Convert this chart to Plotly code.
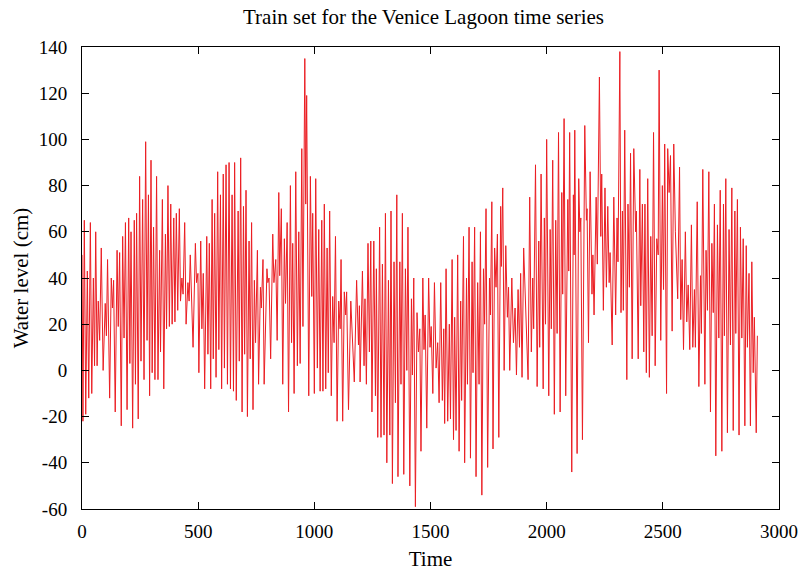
import plotly.graph_objects as go

# Extremes (peaks and troughs) of the water level series
time = [0,4,10,16,23,29,36,42,49,54,59,65,70,76,83,91,100,105,110,119,126,131,136,143,151,156,162,169,175,181,187,194,201,206,211,218,225,230,235,242,248,254,261,267,274,280,286,291,297,302,
        308,314,321,327,334,338,346,352,359,364,370,376,382,388,395,400,406,412,419,424,430,435,442,448,456,461,466,478,488,493,499,503,511,516,522,528,537,542,548,554,560,565,571,577,584,589,596,601,608,613,
        620,626,633,639,646,652,657,664,672,677,683,689,695,700,706,712,719,724,730,736,742,747,755,760,768,772,779,784,796,800,805,812,821,826,834,840,847,851,858,864,871,876,883,889,897,902,907,913,
        920,927,933,939,946,951,959,963,967,976,983,989,993,1000,1006,1013,1019,1025,1032,1037,1043,1049,1055,1060,1066,1073,1079,1085,1091,1098,1105,1111,1115,1122,1129,1135,1139,1147,1157,1164,1172,1182,1190,1194,1197,1207,1214,
        1218,1224,1231,1237,1243,1248,1256,1263,1267,1273,1281,1287,1293,1300,1306,1312,1319,1325,1330,1336,1343,1349,1355,1360,1368,1373,1379,1385,1392,1398,1403,1411,1418,1422,1428,1435,1442,1448,1454,1459,1467,1472,1477,1484,1492,1498,1503,1510,1517,
        1524,1531,1537,1544,1551,1557,1561,1567,1574,1581,1586,1593,1599,1604,1610,1617,1623,1630,1634,1642,1647,1655,1659,1666,1672,1679,1683,1690,1696,1703,1709,1715,1721,1728,1733,1739,1746,1754,1758,1764,1769,1776,1782,1788,1794,1802,1805,1811,1817,
        1824,1831,1836,1841,1850,1857,1864,1870,1877,1883,1888,1894,1901,1909,1920,1927,1934,1940,1944,1952,1959,1966,1970,1976,1985,1990,1995,2000,2009,2015,2020,2026,2033,2039,2045,2051,2058,2065,2069,2075,2082,2091,2095,2099,2108,2115,
        2118,2121,2131,2138,2143,2147,2154,2164,2171,2174,2180,2187,2195,2199,2204,2213,2218,2227,2233,2237,2244,2251,2257,2263,2269,2273,2282,2289,2297,2303,2307,2315,2320,2326,2330,2336,2345,2350,2356,2361,2368,2375,2383,2386,2394,2401,2405,2412,2418,2423,
        2429,2435,2442,2448,2454,2460,2467,2474,2480,2484,2491,2498,2503,2508,2516,2521,2527,2533,2540,2547,2554,2564,2572,2577,2583,2589,2597,2603,2609,2616,2623,2629,2636,2640,2648,2655,2662,2666,2672,2681,2686,2692,2698,2705,2711,2717,2722,
        2728,2735,2741,2747,2754,2761,2765,2771,2778,2785,2791,2797,2803,2810,2814,2821,2828,2834,2840,2846,2853,2859,2864,2871,2877,2883,2889,2894,2902,2907]

level = [50,-22,65,-19,43,-12,64,-10,40,2,60,2,30,13,53,0,29,15,48,-12,40,27,39,-18,52,19,51,-24,58,14,64,-17,66,3,60,-25,65,-6,68,-21,84,4,74,-4,99,13,76,-11,91,-1,
         62,-4,84,-4,52,8,74,-8,59,18,80,19,72,20,66,21,68,26,70,30,40,33,64,20,38,30,50,10,55,38,42,-1,56,18,42,-8,58,7,55,-8,74,5,68,-3,86,9,76,-8,85,1,
         89,-6,90,-8,76,-9,90,-13,69,4,92,-18,71,7,78,-20,56,5,64,-17,39,12,52,-6,36,27,48,-6,44,38,40,5,59,38,48,13,77,41,70,-6,57,29,64,-18,80,12,55,-10,
         86,2,60,3,96,19,135,72,119,-11,84,32,68,-10,83,1,61,-9,65,-9,72,-8,53,-1,69,-11,32,12,58,-22,30,18,48,-22,34,24,34,-17,30,15,-5,39,11,28,-5,43,2,
         31,-6,55,8,56,-18,56,-11,44,-29,62,-29,46,-28,68,-40,39,-28,69,-49,47,-14,76,-46,47,-6,68,-45,44,0,62,-50,31,-2,40,-59,25,8,18,-35,40,9,24,-25,40,10,19,-10,38,
         1,12,-14,38,-13,18,-23,44,-22,20,-21,48,-30,23,-26,50,-35,30,-13,58,-40,40,-6,62,-38,47,-1,62,-46,38,-6,60,-54,44,20,70,-42,40,24,73,-34,53,36,59,-29,71,45,79,0,
         54,23,36,0,40,12,27,-2,35,10,42,-3,53,26,-4,75,8,40,18,89,-7,56,10,85,-8,66,20,100,-11,61,18,91,-19,65,16,103,-18,77,33,109,-11,74,43,103,-44,76,
         50,104,-36,83,60,66,-30,106,65,70,12,86,33,50,24,75,46,127,58,85,26,79,36,71,38,51,11,75,24,66,47,138,25,69,26,104,-4,72,36,94,5,96,60,69,5,87,28,72,8,72,
         -1,83,-3,58,15,103,2,57,50,130,13,80,35,98,-10,96,77,93,17,98,60,31,88,22,48,9,60,21,37,9,63,10,35,10,73,-7,41,16,87,-6,52,26,86,-18,55,25,72,
         -37,63,14,78,-35,72,15,83,-27,61,11,79,-26,69,16,74,-28,62,14,57,-24,54,10,42,-24,47,-1,23,-27,15]

# Axis tick positions and labels (gnuplot style, ASCII hyphen for negatives)
x_ticks = [0, 500, 1000, 1500, 2000, 2500, 3000]
x_labels = ["0", "500", "1000", "1500", "2000", "2500", "3000"]
y_ticks = [-60, -40, -20, 0, 20, 40, 60, 80, 100, 120, 140]
y_labels = ["-60", "-40", "-20", "0", "20", "40", "60", "80", "100", "120", "140"]

fig = go.Figure()
fig.add_trace(go.Scatter(x=time, y=level, mode="lines",
                         line=dict(color="rgb(235,30,35)", width=1),
                         showlegend=False))

serif = "Liberation Serif, Times New Roman, serif"
axis_common = dict(showline=True, linecolor="black", linewidth=1, mirror="ticks",
                   ticks="inside", ticklen=7, tickcolor="black", tickwidth=1,
                   showgrid=False, zeroline=False, tickmode="array",
                   tickfont=dict(family=serif, size=19, color="black"))

fig.update_layout(
    width=805, height=571,
    margin=dict(l=82, r=26, t=47, b=62),
    paper_bgcolor="white", plot_bgcolor="white",
    title=dict(text="Train set for the Venice Lagoon time series",
               x=0.49, xref="paper", xanchor="center",
               y=1 - 17 / 571, yref="container", yanchor="middle",
               font=dict(family=serif, size=21, color="black")),
    xaxis=dict(range=[0, 3000], tickvals=x_ticks, ticktext=x_labels, ticklabelstandoff=5,
               title=dict(text="Time", font=dict(family=serif, size=21, color="black"), standoff=14),
               automargin=False, **axis_common),
    yaxis=dict(range=[-60, 140], tickvals=y_ticks, ticktext=y_labels, ticklabelstandoff=10,
               title=dict(text="Water level (cm)", font=dict(family=serif, size=21, color="black"), standoff=4),
               automargin=False, **axis_common),
)

fig.write_html("out.html")
